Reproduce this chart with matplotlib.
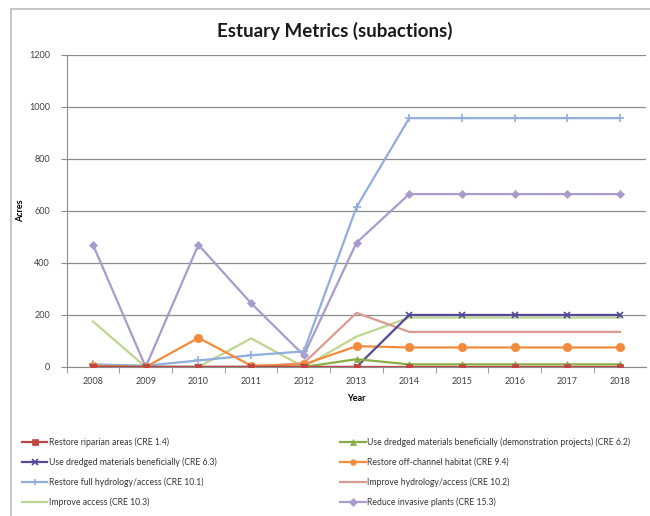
import matplotlib.pyplot as plt
from matplotlib.patches import Rectangle

plt.rcParams['font.family'] = ['Lato', 'DejaVu Sans']

# data (acres per year)
years = [2008, 2009, 2010, 2011, 2012, 2013, 2014, 2015, 2016, 2017, 2018]

riparian = [0, 0, 0, 0, 0, 0, 0, 0, 0, 0, 0]
dredged_demo = [0, 0, 0, 0, 0, 30, 10, 10, 10, 10, 10]
dredged = [0, 0, 0, 0, 0, 0, 200, 200, 200, 200, 200]
off_channel = [5, 0, 112, 5, 10, 80, 75, 75, 75, 75, 75]
full_hydrology = [10, 5, 25, 45, 60, 615, 957, 957, 957, 957, 957]
improve_hydrology = [5, 0, 0, 0, 15, 208, 135, 135, 135, 135, 135]
improve_access = [175, 0, 0, 110, 0, 117, 190, 190, 190, 190, 190]
invasive = [470, 0, 470, 245, 45, 478, 665, 665, 665, 665, 665]

labels = [
    "Restore riparian areas (CRE 1.4)",
    "Use dredged materials beneficially (demonstration projects) (CRE 6.2)",
    "Use dredged materials beneficially (CRE 6.3)",
    "Restore off-channel habitat (CRE 9.4)",
    "Restore full hydrology/access (CRE 10.1)",
    "Improve hydrology/access (CRE 10.2)",
    "Improve access (CRE 10.3)",
    "Reduce invasive plants (CRE 15.3)",
]
series = [riparian, dredged_demo, dredged, off_channel,
          full_hydrology, improve_hydrology, improve_access, invasive]
colors = ["#BE4642", "#86AE45", "#54489A", "#F28C3C",
          "#92AEDC", "#DA9A92", "#BDD690", "#A99BCB"]
markers = ["s", "^", "x", "o", "+", "", "", "D"]
msizes = [5, 5, 5, 6, 6, 0, 0, 4]

fig = plt.figure(figsize=(6.5, 5.16), dpi=100)
ax = fig.add_axes([0.1025, 0.2888, 0.892, 0.6047])

# draw back to front so the flat series end up on top like the original
handles = []
for vals, lab, col, mk, ms in zip(series, labels, colors, markers, msizes):
    ln, = ax.plot(years, vals, color=col, lw=1.6, marker=mk, markersize=ms,
                  markeredgewidth=1.2 if mk in ("x", "+") else 0.5,
                  markeredgecolor=col, label=lab)
    handles.append(ln)
for i, ln in enumerate(handles):
    ln.set_zorder(10 - i)

ax.set_xlim(2007.5, 2018.5)
ax.set_ylim(0, 1200)
ax.set_yticks(range(0, 1201, 200))
ax.set_xticks(years)
ax.set_xticks([y + 0.5 for y in years[:-1]] + [2007.5], minor=True)
ax.tick_params(axis='x', which='major', length=0, labelsize=6.5, pad=7, colors='#404040')
ax.tick_params(axis='x', which='minor', length=4, color='#8c8c8c', direction='out')
ax.tick_params(axis='y', length=4, color='#8c8c8c', labelsize=6.5, pad=8, colors='#404040')
ax.grid(axis='y', color='#8c8c8c', lw=0.9)
ax.set_axisbelow(True)
for s in ['top', 'right']:
    ax.spines[s].set_visible(False)
ax.spines['left'].set_color('#8c8c8c')
ax.spines['bottom'].set_color('#8c8c8c')

ax.set_xlabel("Year", fontsize=6.5, fontweight='bold', labelpad=6)
ax.set_ylabel("Acres", fontsize=6.5, fontweight='bold')
ax.yaxis.set_label_coords(-0.072, 0.5)
fig.text(0.515, 0.94, "Estuary Metrics (subactions)", ha='center', va='center',
         fontsize=13.5, fontweight='bold', color='#1a1a1a')

# legend in two columns, filled row by row like the original
left_idx = [0, 2, 4, 6]
right_idx = [1, 3, 5, 7]
kw = dict(frameon=False, fontsize=6.2, handlelength=3.0, handletextpad=0.15,
          labelspacing=1.2, borderaxespad=0, labelcolor='#333333')
leg1 = fig.legend([handles[i] for i in left_idx], [labels[i] for i in left_idx],
                  loc='upper left', bbox_to_anchor=(0.028, 0.158), **kw)
leg2 = fig.legend([handles[i] for i in right_idx], [labels[i] for i in right_idx],
                  loc='upper left', bbox_to_anchor=(0.518, 0.158), **kw)
for leg in (leg1, leg2):
    for h in leg.legend_handles:
        h.set_markersize(4)

# chart area border
fig.patches.append(Rectangle((11 / 650, -0.05), 1.0, 1 - 9 / 516 + 0.05,
                             transform=fig.transFigure, fill=False,
                             edgecolor='#c8c8c8', lw=1.5))

fig.savefig("out.png", dpi=100)
